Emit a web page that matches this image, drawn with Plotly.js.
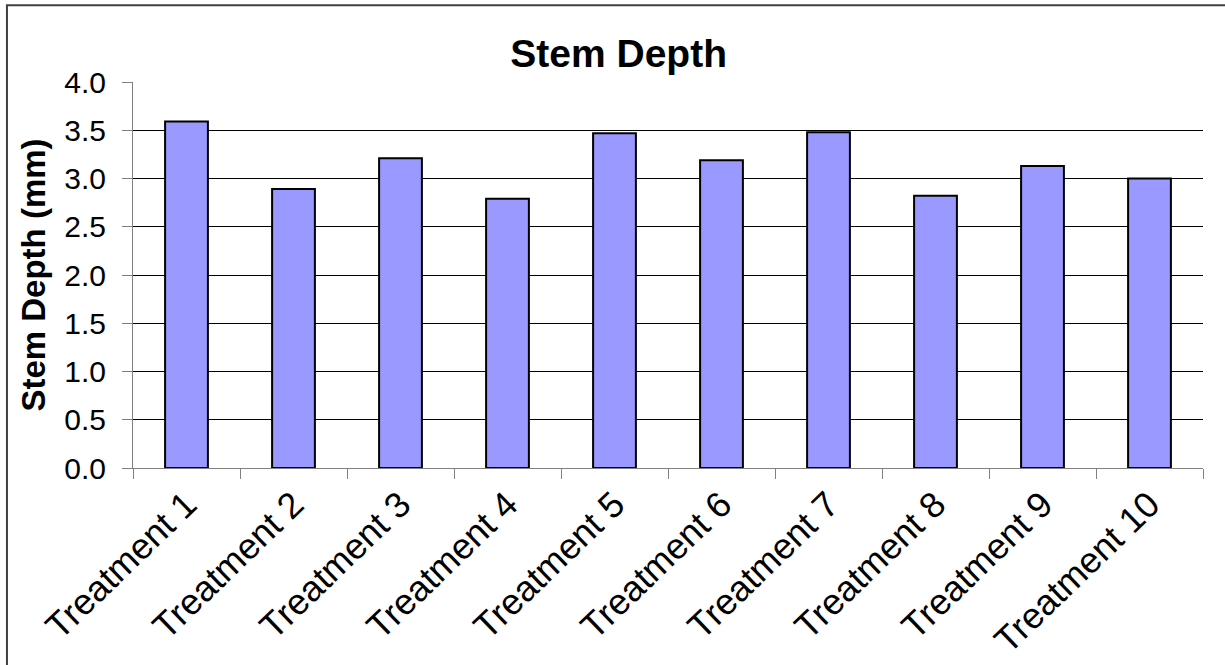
<!DOCTYPE html>
<html>
<head>
<meta charset="utf-8">
<script src="https://cdn.plot.ly/plotly-3.0.1.min.js"></script>
<style>
  html, body { margin: 0; padding: 0; background: #ffffff; }
  #chart { width: 1225px; height: 665px; }
</style>
</head>
<body>
<div id="chart"></div>
<script>
// Stem depth per treatment (mm)
const treatments = ["Treatment 1", "Treatment 2", "Treatment 3", "Treatment 4", "Treatment 5",
                    "Treatment 6", "Treatment 7", "Treatment 8", "Treatment 9", "Treatment 10"];
const stemDepth = [3.59, 2.89, 3.21, 2.79, 3.47, 3.19, 3.48, 2.82, 3.13, 3.00];
const yTickValues = [0, 0.5, 1, 1.5, 2, 2.5, 3, 3.5, 4];
const yTickLabels = ["0.0", "0.5", "1.0", "1.5", "2.0", "2.5", "3.0", "3.5", "4.0"];

const FONT = "Liberation Sans, Arial, sans-serif";

const trace = {
  type: "bar",
  x: treatments,
  y: stemDepth,
  marker: { color: "#9999FF", line: { color: "#000000", width: 2 } },
  hoverinfo: "x+y"
};

const layout = {
  width: 1225,
  height: 665,
  margin: { l: 133, r: 22, t: 82, b: 197 },
  paper_bgcolor: "#ffffff",
  plot_bgcolor: "#ffffff",
  bargap: 0.6,
  showlegend: false,
  font: { family: FONT, color: "#000000" },
  title: {
    text: "<b>Stem Depth</b>",
    font: { family: FONT, size: 39, color: "#000000" },
    xref: "container", x: 0.505, xanchor: "center",
    yref: "container", y: 0.92, yanchor: "middle"
  },
  xaxis: {
    type: "category",
    tickangle: -44,
    tickson: "boundaries",
    ticks: "outside",
    ticklen: 10,
    tickwidth: 1,
    tickcolor: "#808080",
    showline: true,
    linecolor: "#808080",
    linewidth: 1,
    showgrid: false,
    tickfont: { family: FONT, size: 36, color: "#000000" },
    automargin: false
  },
  yaxis: {
    range: [0, 4],
    tickvals: yTickValues,
    ticktext: yTickLabels,
    ticks: "outside",
    ticklen: 10,
    tickwidth: 1,
    tickcolor: "#808080",
    ticklabelstandoff: 10,
    showline: true,
    linecolor: "#808080",
    linewidth: 1,
    showgrid: true,
    gridcolor: "#000000",
    gridwidth: 1,
    zeroline: false,
    tickfont: { family: FONT, size: 30, color: "#000000" },
    title: {
      text: "<b>Stem Depth (mm)</b>",
      font: { family: FONT, size: 33, color: "#000000" },
      standoff: 8
    },
    automargin: false
  },
  shapes: [
    {
      // outer chart frame
      type: "rect", xref: "paper", yref: "paper",
      x0: -0.1178, x1: 1.3, y0: -1, y1: 1.199,
      line: { color: "#404040", width: 2 },
      fillcolor: "rgba(0,0,0,0)",
      layer: "below"
    }
  ]
};

Plotly.newPlot("chart", [trace], layout, { displayModeBar: false, responsive: false });
</script>
</body>
</html>
